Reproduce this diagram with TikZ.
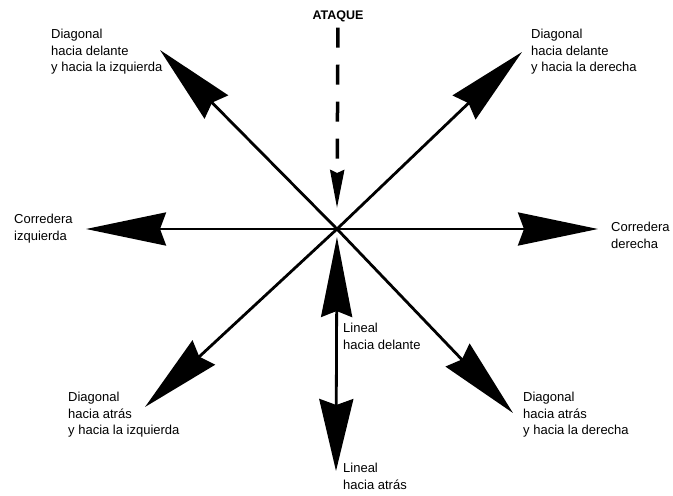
\documentclass[tikz,border=0pt]{standalone}
\usepackage{fontspec}
\setmainfont{Liberation Sans}
\usetikzlibrary{arrows.meta}

\begin{document}
\begin{tikzpicture}[x=1pt,y=-1pt,
  flecha/.style={line width=2.8pt,-{Stealth[length=80pt,width=33pt,inset=6pt]}},
  rotulo/.style={anchor=north west,inner sep=0pt,align=left,font=\fontsize{13}{16.5}\selectfont}]
 \useasboundingbox (0,0) rectangle (673,496);
 \coordinate (c) at (337,229);
 \coordinate (der) at (598,229);
 \coordinate (izq) at (86,229);
 \coordinate (di) at (160,50);
 \coordinate (dd) at (522,52);
 \coordinate (ai) at (145,407);
 \coordinate (ad) at (513,413);
 \coordinate (atr) at (336,471);
 \coordinate (golpe) at (337,208);
 \node[font=\fontsize{12.5}{14}\selectfont\bfseries,anchor=north,inner sep=0pt] (ataque) at (338,11) {ATAQUE};
 \draw[line width=3.5pt,dash pattern=on 20pt off 17pt,shorten <=5pt,
   -{Stealth[length=38pt,width=14pt,inset=3pt]}] (ataque) -- (golpe);
 \foreach \p in {der,izq,di,dd,ai,ad}{\draw[flecha] (c) -- (\p);}
 \draw[flecha,{Stealth[length=80pt,width=31pt,inset=6pt]}-{Stealth[length=72pt,width=34pt,inset=6pt]},
   shorten <=8pt] (c) -- (atr);
 \node[rotulo] (ldi) at (51,29) {Diagonal\\hacia delante\\y hacia la izquierda};
 \node[rotulo] (ldd) at (531,29) {Diagonal\\hacia delante\\y hacia la derecha};
 \node[rotulo] (lizq) at (14,214) {Corredera\\izquierda};
 \node[rotulo] (lder) at (611,222) {Corredera\\derecha};
 \node[rotulo] (ldel) at (343,323) {Lineal\\hacia delante};
 \node[rotulo] (latr) at (343,463) {Lineal\\hacia atrás};
 \node[rotulo] (lai) at (68,392) {Diagonal\\hacia atrás\\y hacia la izquierda};
 \node[rotulo] (lad) at (523,392) {Diagonal\\hacia atrás\\y hacia la derecha};
\end{tikzpicture}
\end{document}
